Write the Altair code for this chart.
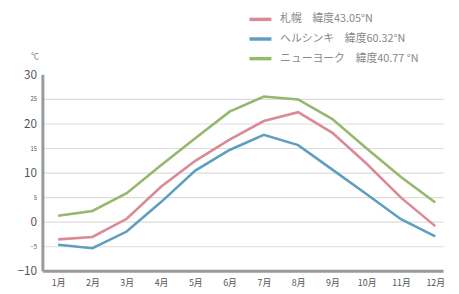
import altair as alt
import pandas as pd

months = list(range(1, 13))
series_names = ["札幌　緯度43.05°N", "ヘルシンキ　緯度60.32°N", "ニューヨーク　緯度40.77 °N"]
sapporo = [-3.6, -3.1, 0.6, 7.1, 12.4, 16.7, 20.5, 22.3, 18.1, 11.8, 4.9, -0.9]
helsinki = [-4.7, -5.4, -2.0, 4.0, 10.4, 14.6, 17.7, 15.6, 10.6, 5.6, 0.5, -3.0]
newyork = [1.2, 2.2, 5.8, 11.5, 17.0, 22.4, 25.5, 24.9, 20.9, 14.9, 9.1, 3.9]
colors = ["#d98a96", "#5e9ec0", "#94b86c"]

rows = []
for name, vals in zip(series_names, [sapporo, helsinki, newyork]):
    for m, v in zip(months, vals):
        rows.append({"month": m, "temp": v, "city": name})
df = pd.DataFrame(rows)

FONT = "Noto Sans CJK JP"

chart = alt.Chart(df).mark_line(strokeWidth=2.6).encode(
    x=alt.X("month:Q", scale=alt.Scale(domain=[0.54, 12.23], nice=False, zero=False),
            axis=alt.Axis(values=months, labelExpr="datum.value + '月'", grid=False,
                          ticks=False, domainColor="#9a9a9a", domainWidth=3,
                          labelFontSize=9, labelColor="#555", labelPadding=8,
                          labelFont=FONT, title=None)),
    y=alt.Y("temp:Q", scale=alt.Scale(domain=[-10, 30], nice=False),
            axis=alt.Axis(values=[-10, -5, 0, 5, 10, 15, 20, 25, 30],
                          labelFontSize={"condition": {"test": "datum.value % 10 === 0", "value": 12}, "value": 6},
                          gridOpacity={"condition": {"test": "datum.value >= 30 || datum.value <= -10", "value": 0}, "value": 1},
                          gridColor="#dcdcdc", gridWidth=1.2,
                          ticks=False, domainColor="#9a9a9a", domainWidth=3,
                          labelColor="#555", labelPadding=6, labelFont=FONT,
                          title="℃", titleAngle=0, titleX=-8, titleY=-14,
                          titleFontSize=8, titleFontWeight="normal", titleColor="#777",
                          titleFont=FONT)),
    color=alt.Color("city:N", scale=alt.Scale(domain=series_names, range=colors),
                    legend=alt.Legend(orient="none", legendX=209, legendY=-69, title=None,
                                      symbolType="stroke", symbolSize=500, symbolStrokeWidth=3.5,
                                      labelFontSize=11, labelColor="#888", labelFont=FONT,
                                      rowPadding=0, labelOffset=7)),
).properties(
    width=408, height=200,
    autosize=alt.AutoSizeParams(type="none"),
    padding={"left": 35, "top": 65, "right": 8, "bottom": 20},
).configure_view(stroke=None)

chart.save("out.html", embed_options={"renderer": "svg", "actions": False})
